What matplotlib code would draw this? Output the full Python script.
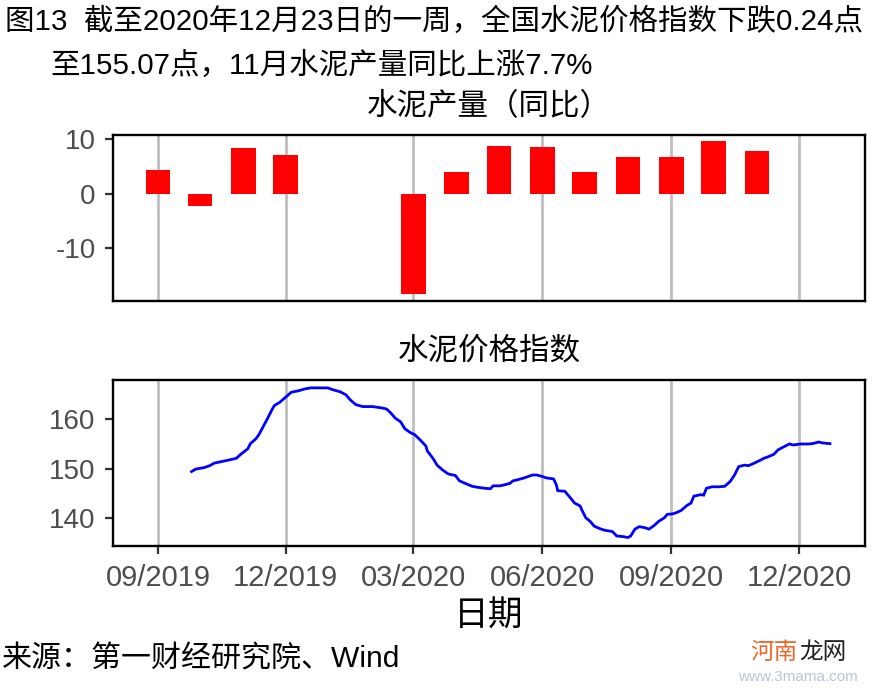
import matplotlib
matplotlib.use('Agg')
import matplotlib.pyplot as plt
import matplotlib.dates as mdates
import pandas as pd

plt.rcParams['font.family'] = ['Liberation Sans', 'Noto Sans CJK SC', 'DejaVu Sans']

# ---------------- data ----------------
title_line1 = "图13  截至2020年12月23日的一周，全国水泥价格指数下跌0.24点"
title_line2 = "至155.07点，11月水泥产量同比上涨7.7%"
panel1_title = "水泥产量（同比）"
panel2_title = "水泥价格指数"
x_label = "日期"
source_text = "来源：第一财经研究院、Wind"

bar_months = ["2019-09-01", "2019-10-01", "2019-11-01", "2019-12-01",
              "2020-03-01", "2020-04-01", "2020-05-01", "2020-06-01",
              "2020-07-01", "2020-08-01", "2020-09-01", "2020-10-01",
              "2020-11-01"]
bar_values = [4.4, -2.2, 8.4, 7.1, -18.4, 4.0, 8.8, 8.6, 3.9, 6.8, 6.7, 9.7, 7.8]

price_dates = [
    "2019-09-25", "2019-09-28", "2019-10-04", "2019-10-08", "2019-10-11", "2019-10-16",
    "2019-10-21", "2019-10-27", "2019-10-30", "2019-11-04", "2019-11-06", "2019-11-10",
    "2019-11-12", "2019-11-15", "2019-11-18", "2019-11-21", "2019-11-23", "2019-11-27",
    "2019-12-01", "2019-12-05", "2019-12-10", "2019-12-15", "2019-12-19", "2019-12-24",
    "2019-12-31", "2020-01-04", "2020-01-09", "2020-01-13", "2020-01-16", "2020-01-20",
    "2020-01-25", "2020-02-01", "2020-02-08", "2020-02-11", "2020-02-14", "2020-02-17",
    "2020-02-21", "2020-02-24", "2020-02-28", "2020-03-02", "2020-03-06", "2020-03-10",
    "2020-03-11", "2020-03-15", "2020-03-18", "2020-03-22", "2020-03-26", "2020-03-31",
    "2020-04-03", "2020-04-07", "2020-04-12", "2020-04-16", "2020-04-21", "2020-04-25",
    "2020-04-27", "2020-05-02", "2020-05-05", "2020-05-09", "2020-05-11", "2020-05-14",
    "2020-05-19", "2020-05-25", "2020-05-28", "2020-06-01", "2020-06-04", "2020-06-09",
    "2020-06-11", "2020-06-12", "2020-06-17", "2020-06-20", "2020-06-24", "2020-06-28",
    "2020-06-29", "2020-07-02", "2020-07-05", "2020-07-08", "2020-07-12", "2020-07-15",
    "2020-07-21", "2020-07-24", "2020-07-28", "2020-08-01", "2020-08-03", "2020-08-06",
    "2020-08-09", "2020-08-13", "2020-08-16", "2020-08-20", "2020-08-23", "2020-08-27",
    "2020-08-29", "2020-09-02", "2020-09-05", "2020-09-08", "2020-09-12", "2020-09-15",
    "2020-09-17", "2020-09-22", "2020-09-24", "2020-09-26", "2020-09-30", "2020-10-05",
    "2020-10-09", "2020-10-13", "2020-10-16", "2020-10-19", "2020-10-23", "2020-10-26",
    "2020-10-30", "2020-11-02", "2020-11-06", "2020-11-09", "2020-11-13", "2020-11-16",
    "2020-11-20", "2020-11-24", "2020-11-27", "2020-12-02", "2020-12-08", "2020-12-11",
    "2020-12-15", "2020-12-18", "2020-12-23"]
price_values = [
    149.4, 149.9, 150.2, 150.6, 151.1, 151.4,
    151.7, 152.1, 152.9, 154.0, 155.1, 156.1,
    156.9, 158.5, 160.1, 161.8, 162.8, 163.5,
    164.5, 165.5, 165.8, 166.2, 166.4, 166.4,
    166.4, 166.0, 165.6, 165.0, 164.0, 163.0,
    162.6, 162.6, 162.3, 162.1, 161.3, 160.3,
    159.5, 158.1, 157.3, 156.9, 155.8, 154.6,
    153.6, 152.1, 150.7, 149.7, 148.9, 148.6,
    147.5, 147.0, 146.4, 146.2, 146.0, 145.9,
    146.5, 146.5, 146.7, 147.0, 147.5, 147.7,
    148.1, 148.7, 148.7, 148.4, 148.1, 147.9,
    146.7, 145.5, 145.4, 144.4, 143.0, 142.4,
    141.7, 140.0, 139.3, 138.3, 137.8, 137.5,
    137.2, 136.3, 136.2, 136.0, 136.3, 137.7,
    138.2, 138.0, 137.7, 138.5, 139.3, 140.0,
    140.7, 140.8, 141.1, 141.5, 142.5, 143.0,
    144.4, 144.7, 144.6, 146.0, 146.3, 146.3,
    146.4, 147.4, 148.7, 150.4, 150.7, 150.6,
    151.1, 151.5, 152.1, 152.4, 152.9, 153.8,
    154.4, 155.0, 154.8, 155.0, 155.0, 155.1,
    155.4, 155.2, 155.07]

x_ticks = ["2019-09-01", "2019-12-01", "2020-03-01", "2020-06-01", "2020-09-01", "2020-12-01"]
x_tick_labels = ["09/2019", "12/2019", "03/2020", "06/2020", "09/2020", "12/2020"]
bar_yticks = [-10, 0, 10]
price_yticks = [140, 150, 160]

# ---------------- figure ----------------
W, H = 885, 688
fig = plt.figure(figsize=(W / 100, H / 100), dpi=100)
fig.patch.set_facecolor('white')

def axrect(l, t, r, b):
    return [l / W, 1 - b / H, (r - l) / W, (b - t) / H]

ax1 = fig.add_axes(axrect(113, 135, 865, 301))
ax2 = fig.add_axes(axrect(113, 380, 865, 546))

xlim = (pd.Timestamp("2019-07-31"), pd.Timestamp("2021-01-17"))
tick_dates = pd.to_datetime(x_ticks)

grid_c = '#bebebe'
tick_c = '#333333'
lab_c = '#4d4d4d'

for ax in (ax1, ax2):
    ax.set_xlim(*xlim)
    ax.set_xticks(tick_dates)
    ax.grid(axis='x', color=grid_c, linewidth=2.0)
    ax.grid(axis='y', visible=False)
    ax.set_axisbelow(True)
    for s in ax.spines.values():
        s.set_linewidth(1.7)
        s.set_color('black')
    ax.tick_params(axis='y', length=5.5, width=1.6, color=tick_c, labelcolor=lab_c,
                   labelsize=20, pad=7)

# top panel: bars
bx = pd.to_datetime(bar_months)
ax1.bar(bx, bar_values, width=17.5, color='#ff0000', linewidth=0)
ax1.set_ylim(-19.75, 10.8)
ax1.set_yticks(bar_yticks)
ax1.set_yticklabels([str(v) for v in bar_yticks])
ax1.tick_params(axis='x', length=0, labelbottom=False)

# bottom panel: line
ax2.plot(pd.to_datetime(price_dates), price_values, color='#0000ff', linewidth=2.0,
         solid_joinstyle='miter')
ax2.set_ylim(134.27, 168.0)
ax2.set_yticks(price_yticks)
ax2.set_xticklabels(x_tick_labels)
ax2.tick_params(axis='x', length=6, width=1.6, color=tick_c, labelcolor=lab_c,
                labelsize=21, pad=7)

# texts
fig.text(5 / W, 1 - 22 / H, title_line1, fontsize=21.25, va='center', ha='left', color='black')
fig.text(50 / W, 1 - 66 / H, title_line2, fontsize=21.25, va='center', ha='left', color='black')
fig.text(489 / W, 1 - 107 / H, panel1_title, fontsize=22, va='center', ha='center', color='black')
fig.text(489 / W, 1 - 352 / H, panel2_title, fontsize=22, va='center', ha='center', color='black')
fig.text(489 / W, 1 - 616 / H, x_label, fontsize=25, va='center', ha='center', color='black')
fig.text(2 / W, 1 - 659 / H, source_text, fontsize=21.6, va='center', ha='left', color='black')

# watermark
fig.text(750 / W, 1 - 653 / H, "河南", fontsize=17, va='center', ha='left', color='#e8692a')
fig.text(799 / W, 1 - 653 / H, "龙网", fontsize=17, va='center', ha='left', color='#222222')
fig.text(798 / W, 1 - 677 / H, "www.3mama.com", fontsize=11, va='center', ha='center',
         color='#b8c4d8')

fig.savefig('out.png', dpi=100, facecolor='white')
